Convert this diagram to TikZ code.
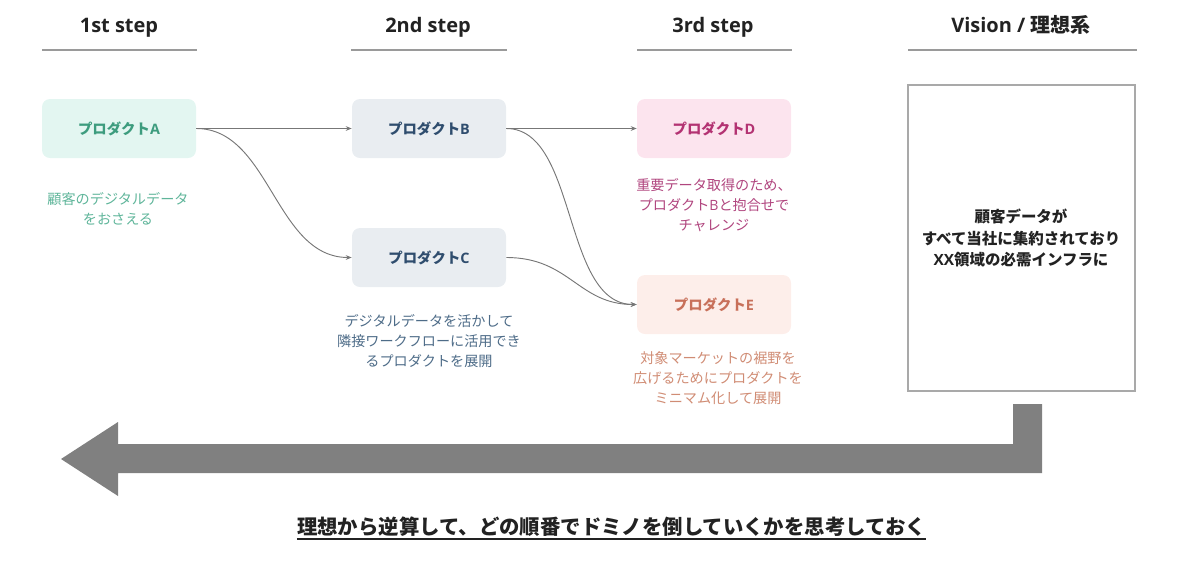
\documentclass[tikz,border=0pt]{standalone}
\usepackage{fontspec}
\setmainfont{Open Sans}
\newfontfamily\jp{Noto Sans CJK JP}
\newfontfamily\os{Open Sans}
\usetikzlibrary{arrows.meta}
\definecolor{cAfill}{HTML}{E3F6F1}\definecolor{cAtext}{HTML}{3D9C7E}\definecolor{cAcap}{HTML}{5FB59A}
\definecolor{cBfill}{HTML}{E9EDF1}\definecolor{cBtext}{HTML}{2F4D6E}\definecolor{cCcap}{HTML}{4E6C88}
\definecolor{cDfill}{HTML}{FCE4EE}\definecolor{cDtext}{HTML}{B33272}\definecolor{cDcap}{HTML}{B0457E}
\definecolor{cEfill}{HTML}{FDEEEA}\definecolor{cEtext}{HTML}{C8705A}\definecolor{cEcap}{HTML}{D08C74}
\definecolor{rule}{HTML}{9A9A9A}\definecolor{conn}{HTML}{777777}\definecolor{bigarrow}{HTML}{808080}
\definecolor{ink}{HTML}{222222}
\tikzset{
  heading/.style={font=\os\bfseries\fontsize{15}{18}\selectfont, text=ink, anchor=base},
  headrule/.style={draw=rule, line width=1.1pt},
  prod/.style={rounded corners=6pt, minimum width=115.5pt, minimum height=44.25pt, inner sep=0pt, font=\jp\bfseries\fontsize{10.8}{13}\selectfont},
  caption/.style={align=center, font=\jp\fontsize{10.6}{15}\selectfont, inner sep=0pt},
  link/.style={draw=conn, line width=0.7pt, -{Stealth[length=4.5pt,width=3.5pt]}},
}
\begin{document}
\begin{tikzpicture}[x=0.75pt,y=-0.75pt]
\useasboundingbox (0,0) rectangle (1200,565);
% headings
\node[heading] (h1) at (119,32) {1st step};
\node[heading] (h2) at (428,32) {2nd step};
\node[heading] (h3) at (713,32) {3rd step};
\node[heading] (h4) at (1021,32) {Vision / {\jp 理想系}};
\coordinate (r1a) at (42,50);  \coordinate (r1b) at (197,50);
\coordinate (r2a) at (351,50); \coordinate (r2b) at (507,50);
\coordinate (r3a) at (637,50); \coordinate (r3b) at (792,50);
\coordinate (r4a) at (908,50); \coordinate (r4b) at (1137,50);
\draw[headrule] (r1a) -- (r1b);
\draw[headrule] (r2a) -- (r2b);
\draw[headrule] (r3a) -- (r3b);
\draw[headrule] (r4a) -- (r4b);
% product boxes
\node[prod, fill=cAfill, text=cAtext] (A) at (119,128.5) {プロダクト{\os\bfseries A}};
\node[prod, fill=cBfill, text=cBtext] (B) at (429,128.5) {プロダクト{\os\bfseries B}};
\node[prod, fill=cBfill, text=cBtext] (C) at (429,257.5) {プロダクト{\os\bfseries C}};
\node[prod, fill=cDfill, text=cDtext] (D) at (714,128.5) {プロダクト{\os\bfseries D}};
\node[prod, fill=cEfill, text=cEtext] (E) at (714,304.5) {プロダクト{\os\bfseries E}};
% captions
\node[caption, text=cAcap] (ca) at (118,209) {顧客のデジタルデータ\\をおさえる};
\node[caption, text=cCcap] (cc) at (429,341) {デジタルデータを活かして\\隣接ワークフローに活用でき\\るプロダクトを展開};
\node[caption, text=cDcap] (cd) at (714,205) {重要データ取得のため、\\プロダクト{\os B}と抱合せで\\チャレンジ};
\node[caption, text=cEcap] (ce) at (718,378) {対象マーケットの裾野を\\広げるためにプロダクトを\\ミニマム化して展開};
% connectors
\draw[link] (A.east) -- (B.west);
\draw[link] (A.east) .. controls (270,128.5) and (275,257.5) .. (C.west);
\draw[link] (B.east) -- (D.west);
\draw[link] (B.east) .. controls (578,128.5) and (562,304.5) .. (E.west);
\draw[link] (C.east) .. controls (570,257.5) and (578,304.5) .. (E.west);
% vision box
\node[draw=rule!85, line width=0.9pt, minimum width=170.25pt, minimum height=229.5pt, inner sep=0pt] (V) at (1021.5,238) {};
\node[align=center, font=\jp\bfseries\fontsize{11.6}{16}\selectfont, text=ink] (vt) at (1021,238) {顧客データが\\すべて当社に集約されており\\{\os\bfseries XX}領域の必需インフラに};
% big arrow
\fill[bigarrow] (1042,404) -- (1042,473) -- (118,473) -- (118,496) -- (61,459) -- (118,422) -- (118,444) -- (1013,444) -- (1013,404) -- cycle;
% bottom text
\node[font=\jp\bfseries\fontsize{15.3}{18}\selectfont, text=ink, inner sep=0pt] (bt) at (611.5,527) {理想から逆算して、どの順番でドミノを倒していくかを思考しておく};
\draw[ink, line width=1.1pt] ([yshift=-3pt]bt.base west) -- ([yshift=-3pt]bt.base east);
\end{tikzpicture}
\end{document}
